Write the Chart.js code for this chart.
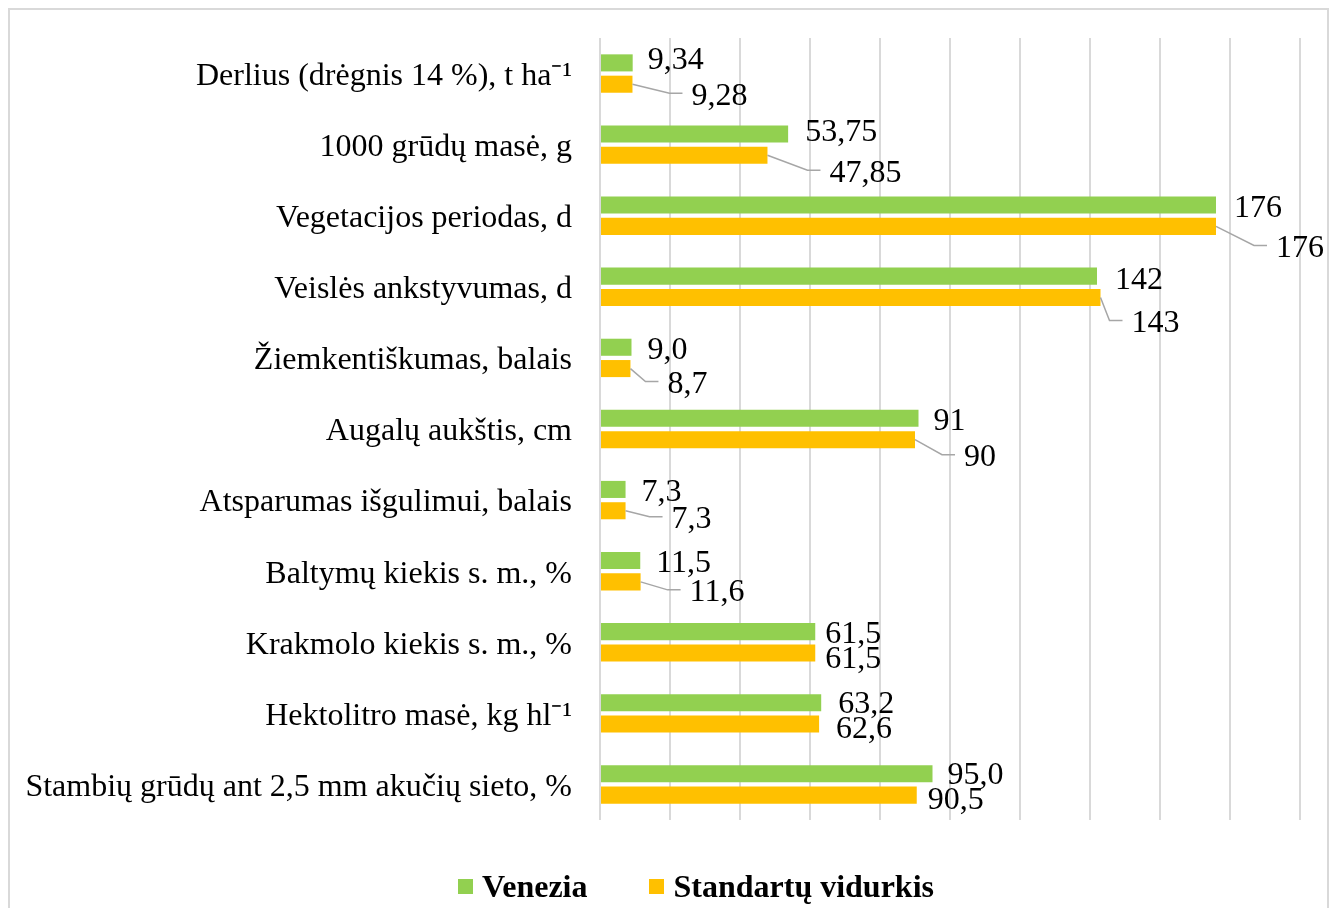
<!DOCTYPE html>
<html lang="lt">
<head>
<meta charset="utf-8">
<title>Venezia</title>
<script src="https://cdn.jsdelivr.net/npm/chart.js"></script>
<style>
  html, body { margin: 0; padding: 0; background: #fff; }
  body { width: 1335px; height: 908px; position: relative; overflow: hidden; }
  #frame { position: absolute; left: 8px; top: 8px; width: 1321px; height: 920px; border: 2px solid #D9D9D9; box-sizing: border-box; }
  #wrap { position: absolute; left: 0; top: 0; width: 1335px; height: 908px; }
  #legend { position: absolute; left: 458px; top: 868px; display: flex; align-items: center;
    font-family: "Liberation Serif", "Times New Roman", serif; font-weight: bold; font-size: 32px; color: #000; }
  .item { display: flex; align-items: center; margin-right: 62px; }
  .box { width: 15px; height: 15px; margin-right: 9px; }
</style>
</head>
<body>
<div id="frame"></div>
<div id="wrap"><canvas id="chart" width="1335" height="908"></canvas></div>
<div id="legend"></div>
<script>
// === Duomenys ===
const categories = [
  "Derlius (drėgnis 14 %), t ha⁻¹",
  "1000 grūdų masė, g",
  "Vegetacijos periodas, d",
  "Veislės ankstyvumas, d",
  "Žiemkentiškumas, balais",
  "Augalų aukštis, cm",
  "Atsparumas išgulimui, balais",
  "Baltymų kiekis s. m., %",
  "Krakmolo kiekis s. m., %",
  "Hektolitro masė, kg hl⁻¹",
  "Stambių grūdų ant 2,5 mm akučių sieto, %"
];
const seriesNames = ["Venezia", "Standartų vidurkis"];
const venezia = [9.34, 53.75, 176, 142, 9.0, 91, 7.3, 11.5, 61.5, 63.2, 95.0];
const standartai = [9.28, 47.85, 176, 143, 8.7, 90, 7.3, 11.6, 61.5, 62.6, 90.5];
const decimals = [2, 2, 0, 0, 1, 0, 1, 1, 1, 1, 1];
const xMin = 0, xMax = 200, xStep = 20;

const colors = ["#92D050", "#FFC000"];
const serif = '"Liberation Serif", "Times New Roman", serif';

function fmt(v, i) {
  return v.toFixed(decimals[i]).replace(".", ",");
}

// etikečių poslinkiai nuo stulpelio galo (px)
const greenOffsets = [[15, -2], [17, -1], [18, 4], [18, 4], [16, 3], [15, 3], [16, 3], [16, 3], [10, 3], [17, 2], [15, 2]];
const orangeOffsets = [[59, 12], [62, 18], [60, 22], [31, 26], [37, 16], [49, 18], [46, 9], [49, 11], [10, 7], [17, 6], [11, 5]];

const labelPlugin = {
  id: "valueLabels",
  afterDatasetsDraw(chart) {
    const ctx = chart.ctx;
    ctx.save();
    ctx.font = "32px " + serif;
    ctx.fillStyle = "#000";
    ctx.textAlign = "left";
    ctx.textBaseline = "middle";
    chart.data.datasets.forEach((ds, d) => {
      const meta = chart.getDatasetMeta(d);
      const offs = d === 0 ? greenOffsets : orangeOffsets;
      meta.data.forEach((bar, i) => {
        const [dx, dy] = offs[i];
        const lx = bar.x + dx, ly = bar.y + dy;
        if (d === 1 && dx > 25) {
          // linija iki etiketės
          ctx.strokeStyle = "#A6A6A6";
          ctx.lineWidth = 1.5;
          ctx.beginPath();
          ctx.moveTo(bar.x, bar.y);
          ctx.lineTo(lx - 22, ly - 3);
          ctx.lineTo(lx - 9, ly - 3);
          ctx.stroke();
        }
        ctx.fillText(fmt(ds.data[i], i), lx, ly);
      });
    });
    ctx.restore();
  }
};

const ctx = document.getElementById("chart").getContext("2d");
const chart = new Chart(ctx, {
  type: "bar",
  data: {
    labels: categories,
    datasets: [
      { label: seriesNames[0], data: venezia, backgroundColor: colors[0], categoryPercentage: 0.6, barPercentage: 0.8 },
      { label: seriesNames[1], data: standartai, backgroundColor: colors[1], categoryPercentage: 0.6, barPercentage: 0.8 }
    ]
  },
  options: {
    indexAxis: "y",
    responsive: false,
    animation: false,
    layout: { padding: { top: 38, right: 35, bottom: 88, left: 0 } },
    plugins: { legend: { display: false }, tooltip: { enabled: false } },
    scales: {
      x: {
        min: xMin, max: xMax,
        ticks: { display: false, stepSize: xStep },
        grid: { color: "#D9D9D9", lineWidth: 2, drawTicks: false },
        border: { display: false }
      },
      y: {
        grid: { display: false, drawTicks: false },
        border: { display: false },
        ticks: { color: "#000", font: { family: serif, size: 32 }, padding: 28, labelOffset: 3, autoSkip: false },
        afterFit(scale) {
          scale.width = 600;
          scale.paddingTop = 0;
          scale.paddingBottom = 0;
        }
      }
    }
  },
  plugins: [labelPlugin]
});

// === Legenda ===
document.getElementById("legend").innerHTML = seriesNames.map((n, i) =>
  `<div class="item"><span class="box" style="background:${colors[i]}"></span>${n}</div>`
).join("");
</script>
</body>
</html>
